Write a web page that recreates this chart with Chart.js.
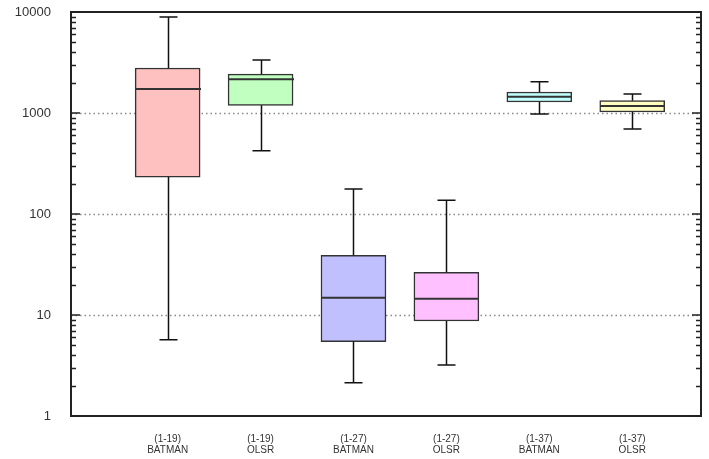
<!DOCTYPE html>
<html>
<head>
<meta charset="utf-8">
<script src="https://cdn.jsdelivr.net/npm/chart.js@4/dist/chart.umd.min.js"></script>
<style>
  html, body { margin: 0; padding: 0; background: #fff; }
  #wrap { width: 709px; height: 459px; }
</style>
</head>
<body>
<div id="wrap"><canvas id="chart"></canvas></div>
<script>
// box plot values
const groups = ['(1-19)', '(1-19)', '(1-27)', '(1-27)', '(1-37)', '(1-37)'];
const protocols = ['BATMAN', 'OLSR', 'BATMAN', 'OLSR', 'BATMAN', 'OLSR'];
const whiskerLow = [5.7, 424, 2.14, 3.2, 977, 695];
const q1 = [232, 1191, 5.45, 8.73, 1285, 1023];
const median = [1730, 2157, 14.8, 14.5, 1449, 1172];
const q3 = [2790, 2430, 39, 26.5, 1615, 1324];
const whiskerHigh = [8920, 3350, 177, 137, 2040, 1542];
const yTicks = [1, 10, 100, 1000, 10000];
const colors = ['#ffc0c0', '#c0ffc0', '#c0c0ff', '#ffc0ff', '#c0ffff', '#ffffc0'];

const boxData = q1.map((v, i) => ({ x: i + 1, y: [v, q3[i]] }));

// whiskers, medians, frame and log ticks
const boxExtras = {
  id: 'boxExtras',
  beforeDatasetsDraw(chart) {
    const { ctx, chartArea: a, scales: { y } } = chart;
    ctx.save();
    ctx.strokeStyle = '#888';
    ctx.lineWidth = 1.5;
    ctx.setLineDash([1.5, 3]);
    [10, 100, 1000].forEach(v => {
      const py = Math.round(y.getPixelForValue(v)) + 0.5;
      ctx.beginPath();
      ctx.moveTo(a.left, py);
      ctx.lineTo(a.right, py);
      ctx.stroke();
    });
    ctx.restore();
  },
  afterDatasetsDraw(chart) {
    const { ctx, chartArea: a, scales: { x, y } } = chart;
    ctx.save();
    ctx.strokeStyle = '#111';
    ctx.lineWidth = 1.5;
    const half = 32.5;
    const cap = 9;
    for (let i = 0; i < q1.length; i++) {
      const cx = Math.round(x.getPixelForValue(i + 1)) + 0.5;
      const yl = y.getPixelForValue(whiskerLow[i]);
      const yh = y.getPixelForValue(whiskerHigh[i]);
      const y1 = y.getPixelForValue(q1[i]);
      const y3 = y.getPixelForValue(q3[i]);
      const ym = y.getPixelForValue(median[i]);
      ctx.beginPath();
      ctx.moveTo(cx, y3); ctx.lineTo(cx, yh);
      ctx.moveTo(cx - cap, yh); ctx.lineTo(cx + cap, yh);
      ctx.moveTo(cx, y1); ctx.lineTo(cx, yl);
      ctx.moveTo(cx - cap, yl); ctx.lineTo(cx + cap, yl);
      ctx.stroke();
      ctx.beginPath();
      ctx.strokeStyle = '#333';
      ctx.lineWidth = 2;
      ctx.moveTo(cx - half, ym); ctx.lineTo(cx + half, ym);
      ctx.stroke();
      ctx.strokeStyle = '#111';
      ctx.lineWidth = 1.5;
    }
    // frame
    ctx.strokeStyle = '#222';
    ctx.lineWidth = 2;
    ctx.strokeRect(a.left, a.top, a.right - a.left, a.bottom - a.top);
    // log ticks, inward on both sides
    ctx.lineWidth = 1.5;
    ctx.beginPath();
    for (let d = 1; d <= 10000; d *= 10) {
      const py = y.getPixelForValue(d);
      ctx.moveTo(a.left, py); ctx.lineTo(a.left + 9, py);
      ctx.moveTo(a.right, py); ctx.lineTo(a.right - 9, py);
      if (d === 10000) break;
      for (let k = 2; k <= 9; k++) {
        const pm = Math.round(y.getPixelForValue(k * d)) + 0.5;
        ctx.moveTo(a.left, pm); ctx.lineTo(a.left + 5, pm);
        ctx.moveTo(a.right, pm); ctx.lineTo(a.right - 5, pm);
      }
    }
    ctx.stroke();
    ctx.restore();
  }
};

new Chart(document.getElementById('chart'), {
  type: 'bar',
  data: {
    datasets: [{
      data: boxData,
      backgroundColor: colors,
      borderColor: '#333',
      borderWidth: 1.5,
      borderSkipped: false,
      barThickness: 65
    }]
  },
  options: {
    responsive: true,
    maintainAspectRatio: false,
    animation: false,
    layout: { padding: { top: 12, right: 8, left: 0, bottom: 0 } },
    plugins: { legend: { display: false }, tooltip: { enabled: false } },
    scales: {
      x: {
        type: 'linear',
        offset: false,
        min: -0.04,
        max: 6.74,
        grid: { display: false, offset: false },
        border: { display: false },
        afterBuildTicks: s => { s.ticks = groups.map((g, i) => ({ value: i + 1 })); },
        afterFit: s => { s.height = 43; s.paddingLeft = 0; s.paddingRight = 0; },
        ticks: {
          autoSkip: false,
          maxRotation: 0,
          padding: 9,
          color: '#333',
          font: { family: 'Liberation Sans, Arial, sans-serif', size: 10, lineHeight: 1.15 },
          callback: v => [groups[v - 1], protocols[v - 1]]
        }
      },
      y: {
        type: 'logarithmic',
        min: 1,
        max: 10000,
        grid: { display: false },
        border: { display: false },
        afterBuildTicks: s => { s.ticks = yTicks.map(v => ({ value: v })); },
        afterFit: s => { s.width = 71; s.paddingTop = 0; s.paddingBottom = 0; },
        ticks: {
          autoSkip: false,
          padding: 12,
          color: '#333',
          font: { family: 'Liberation Sans, Arial, sans-serif', size: 13 },
          callback: v => String(v)
        }
      }
    }
  },
  plugins: [boxExtras]
});
</script>
</body>
</html>
